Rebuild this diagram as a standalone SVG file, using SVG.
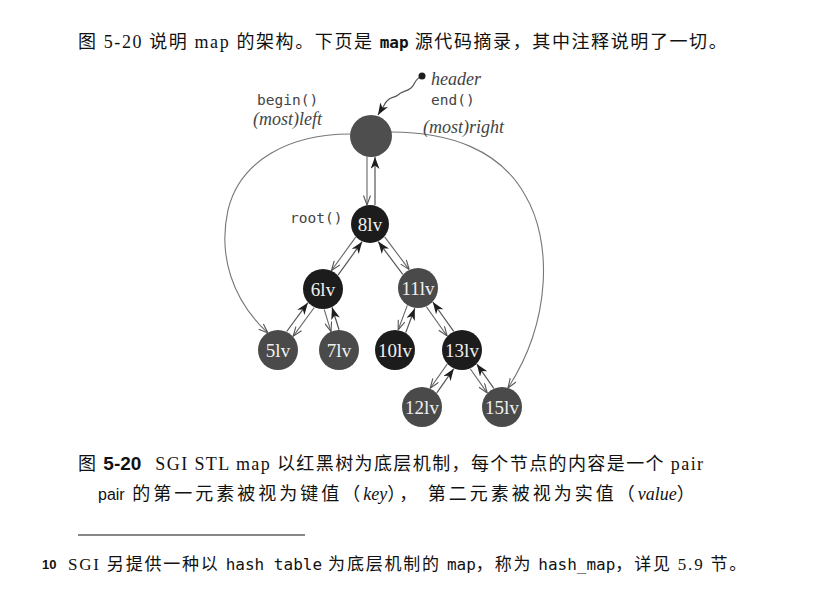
<svg xmlns="http://www.w3.org/2000/svg" width="820" height="592" viewBox="0 0 820 592">
<style>
.txt{font-family:"Liberation Serif","Noto Sans CJK SC",serif;fill:#111}
.mono{font-family:"DejaVu Sans Mono","Liberation Mono",monospace}
.lbl{font-family:"DejaVu Sans Mono","Liberation Mono",monospace;font-size:14.5px;fill:#444}
.it{font-family:"Liberation Serif",serif;font-style:italic;font-size:18px;fill:#444}
.nt{font-family:"Liberation Serif",serif;font-size:19px;fill:#f0f0f0;text-anchor:middle}
.blk{fill:#1c1c1c}
.red{fill:#4a4a4a}
.hdr{fill:#4e4e4e}
.down{stroke:#666;stroke-width:1.1;fill:none;marker-end:url(#open)}
.up{stroke:#555;stroke-width:1.2;fill:none;marker-end:url(#solid)}
.curve{stroke:#777;stroke-width:1.1;fill:none;marker-end:url(#open)}
</style>
<defs>
<marker id="open" viewBox="0 0 10 8" refX="10" refY="4" markerWidth="10" markerHeight="8" markerUnits="userSpaceOnUse" orient="auto">
<path d="M0.5,0.5 L10,4 L0.5,7.5" fill="none" stroke="#555" stroke-width="1.1"/>
</marker>
<marker id="solid" viewBox="0 0 12 9" refX="12" refY="4.5" markerWidth="12" markerHeight="9" markerUnits="userSpaceOnUse" orient="auto">
<path d="M0,0 L12,4.5 L0,9 L3.5,4.5 z" fill="#1e1e1e"/>
</marker>
</defs>
<rect width="820" height="592" fill="#fff"/>

<text class="txt" x="78" y="48" font-size="18" letter-spacing="1.6">图 5-20 说明 map 的架构。下页是 <tspan class="mono" font-weight="bold" font-size="16" letter-spacing="0">map</tspan> 源代码摘录，其中注释说明了一切。</text>

<g id="connectors">
<path class="curve" d="M350,134 C290,134 240,160 228,210 C218,255 232,300 268,333"/>
<path class="curve" d="M391,132 C450,132 500,150 525,195 C552,240 552,320 508,388"/>
<path class="up" d="M421,77 C414,79 416,84 411,88 C406,92 402,91 398,95 C394,98 391,97 388,100 C384,103 385,106 381,110 L378,115"/>
<line class="down" x1="367" y1="157" x2="367" y2="205"/>
<line class="up" x1="375" y1="205" x2="375" y2="157"/>
<line class="down" x1="355.7" y1="237.1" x2="331.5" y2="270.5"/>
<line class="up" x1="338" y1="275.1" x2="362.1" y2="241.7"/>
<line class="down" x1="384.6" y1="236.8" x2="409.2" y2="269.6"/>
<line class="up" x1="402.8" y1="274.4" x2="378.2" y2="241.6"/>
<line class="down" x1="314.3" y1="307.5" x2="293.1" y2="336.3"/>
<line class="up" x1="286.7" y1="331.5" x2="307.9" y2="302.7"/>
<line class="down" x1="324.2" y1="309.3" x2="331" y2="331.7"/>
<line class="up" x1="339" y1="329.7" x2="332" y2="307.3"/>
<line class="down" x1="407.3" y1="305.4" x2="398.2" y2="329.8"/>
<line class="up" x1="405.7" y1="332.6" x2="414.8" y2="308.2"/>
<line class="down" x1="426.3" y1="306.6" x2="447.1" y2="336"/>
<line class="up" x1="453.7" y1="331.4" x2="432.8" y2="302"/>
<line class="down" x1="447.2" y1="364.1" x2="430.2" y2="388.3"/>
<line class="up" x1="436.8" y1="392.9" x2="453.8" y2="368.7"/>
<line class="down" x1="470.2" y1="368.7" x2="487.2" y2="392.9"/>
<line class="up" x1="493.8" y1="388.3" x2="476.8" y2="364.1"/>
</g>

<g id="header">
<circle cx="422" cy="76" r="3.5" fill="#1e1e1e"/>
<circle class="hdr" cx="371" cy="136" r="21"/>
<text class="it" x="431" y="85">header</text>
<text class="lbl" x="431" y="105">end()</text>
<text class="lbl" x="257" y="105">begin()</text>
<text class="it" x="253" y="125">(most)left</text>
<text class="it" x="423" y="133">(most)right</text>
</g>
<g id="n8"><circle class="blk" cx="370" cy="224" r="19"/><text class="nt" x="370" y="230.5">8lv</text><text class="lbl" x="290" y="223">root()</text></g>
<g id="n6"><circle class="blk" cx="323" cy="289" r="20"/><text class="nt" x="323" y="295.5">6lv</text></g>
<g id="n11"><circle class="red" cx="418" cy="288" r="20"/><text class="nt" x="418" y="294.5">11lv</text></g>
<g id="n5"><circle class="red" cx="278" cy="350" r="20"/><text class="nt" x="278" y="356.5">5lv</text></g>
<g id="n7"><circle class="red" cx="339" cy="350" r="20"/><text class="nt" x="339" y="356.5">7lv</text></g>
<g id="n10"><circle class="blk" cx="395" cy="350" r="20"/><text class="nt" x="395" y="356.5">10lv</text></g>
<g id="n13"><circle class="blk" cx="462" cy="350" r="20"/><text class="nt" x="462" y="356.5">13lv</text></g>
<g id="n12"><circle class="red" cx="422" cy="407" r="20"/><text class="nt" x="422" y="413.5">12lv</text></g>
<g id="n15"><circle class="red" cx="502" cy="407" r="20"/><text class="nt" x="502" y="413.5">15lv</text></g>

<g id="caption">
<text class="txt" x="78" y="470" font-size="18" letter-spacing="1.4">图 <tspan font-family="Liberation Sans,sans-serif" font-weight="bold" font-size="19" letter-spacing="0">5-20</tspan><tspan dx="14">SGI STL map 以红黑树为底层机制，每个节点的内容是一个 pair</tspan></text>
<text class="txt" x="98" y="500" font-size="18" letter-spacing="3"><tspan font-family="Liberation Sans,sans-serif" font-size="16" letter-spacing="0">pair</tspan> 的第一元素被视为键值（<tspan font-style="italic" letter-spacing="0">key</tspan>）， 第二元素被视为实值（<tspan font-style="italic" letter-spacing="0">value</tspan>）</text>
</g>

<line x1="78" y1="535" x2="305" y2="535" stroke="#111" stroke-width="1.2"/>
<g id="footnote">
<text x="42" y="569" font-family="Liberation Sans,sans-serif" font-weight="bold" font-size="13" fill="#111">10</text>
<text class="txt" x="68" y="570" font-size="17" letter-spacing="1.8">SGI 另提供一种以 <tspan class="mono" font-size="16" letter-spacing="0">hash table</tspan> 为底层机制的 <tspan class="mono" font-size="16" letter-spacing="0">map</tspan>，称为 <tspan class="mono" font-size="16" letter-spacing="0">hash_map</tspan>，详见 5.9 节。</text>
</g>
</svg>
